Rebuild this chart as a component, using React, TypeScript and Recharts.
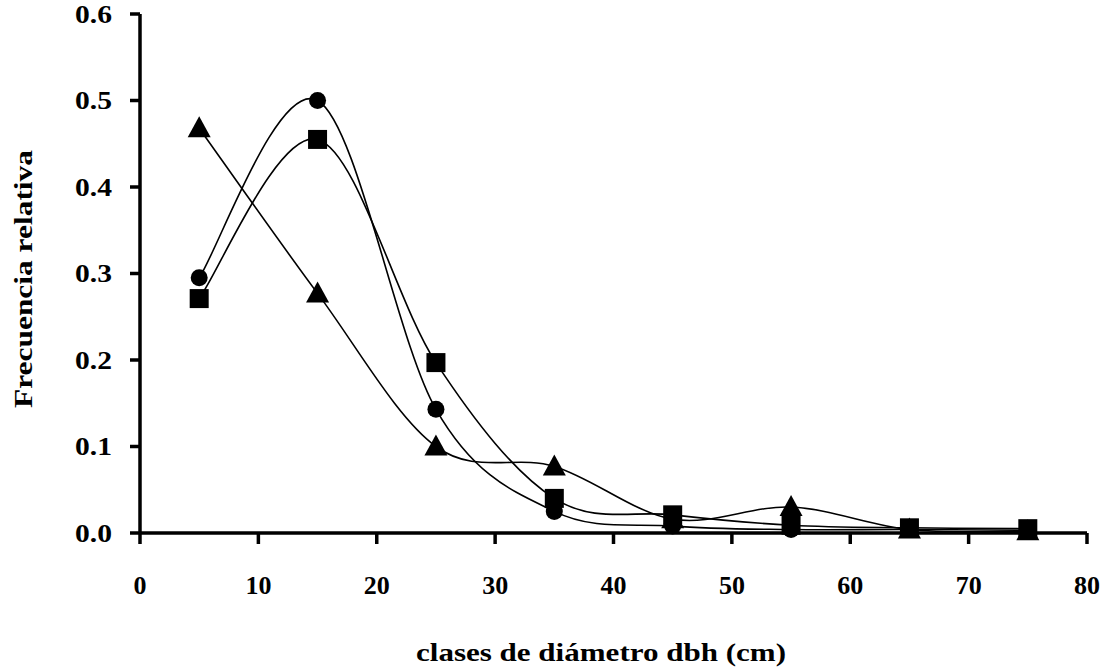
import { Label, Line, LineChart, XAxis, YAxis } from "recharts"

const diameterClasses = [5, 15, 25, 35, 45, 55, 65, 75]
const circleSeries = [0.295, 0.5, 0.143, 0.025, 0.008, 0.004, 0.004, 0.003]
const squareSeries = [0.271, 0.455, 0.197, 0.04, 0.021, 0.009, 0.006, 0.005]
const triangleSeries = [0.468, 0.277, 0.1, 0.077, 0.016, 0.03, 0.004, 0.002]
const xTicks = [0, 10, 20, 30, 40, 50, 60, 70, 80]
const yTicks = [0, 0.1, 0.2, 0.3, 0.4, 0.5, 0.6]

const data = diameterClasses.map((d, i) => ({
  dbh: d,
  circle: circleSeries[i],
  square: squareSeries[i],
  triangle: triangleSeries[i],
}))

const FONT = "'Liberation Serif', 'DejaVu Serif', serif"

// Excel-like smoothed line (Catmull-Rom as cubic bezier)
const smoothCurve = (context: any) => {
  let pts: number[][] = []
  return {
    areaStart() {},
    areaEnd() {},
    lineStart() {
      pts = []
    },
    lineEnd() {
      if (!pts.length) return
      context.moveTo(pts[0][0], pts[0][1])
      for (let i = 0; i < pts.length - 1; i++) {
        const p0 = pts[Math.max(i - 1, 0)]
        const p1 = pts[i]
        const p2 = pts[i + 1]
        const p3 = pts[Math.min(i + 2, pts.length - 1)]
        context.bezierCurveTo(
          p1[0] + (p2[0] - p0[0]) / 6,
          p1[1] + (p2[1] - p0[1]) / 6,
          p2[0] - (p3[0] - p1[0]) / 6,
          p2[1] - (p3[1] - p1[1]) / 6,
          p2[0],
          p2[1]
        )
      }
    },
    point(x: number, y: number) {
      pts.push([+x, +y])
    },
  }
}

const CircleDot = ({ cx, cy, index }: any) => (
  <circle key={`c-${index}`} cx={cx} cy={cy} r={8.5} fill="#000" />
)

const SquareDot = ({ cx, cy, index }: any) => (
  <rect key={`s-${index}`} x={cx - 9.5} y={cy - 9.5} width={19} height={19} fill="#000" />
)

const TriangleDot = ({ cx, cy, index }: any) => (
  <path key={`t-${index}`} d={`M${cx},${cy - 12} L${cx + 11.5},${cy + 9} L${cx - 11.5},${cy + 9} Z`} fill="#000" />
)

const YTick = ({ x, y, payload }: any) => (
  <text
    x={x}
    y={y}
    dy="0.34em"
    textAnchor="end"
    fontFamily={FONT}
    fontWeight="bold"
    fontSize={25}
    fill="#000"
    textLength={37}
    lengthAdjust="spacingAndGlyphs"
  >
    {payload.value.toFixed(1)}
  </text>
)

const XTick = ({ x, y, payload }: any) => (
  <text
    x={x}
    y={y}
    dy="0.71em"
    textAnchor="middle"
    fontFamily={FONT}
    fontWeight="bold"
    fontSize={26}
    fill="#000"
  >
    {payload.value}
  </text>
)

export default function App() {
  return (
    <div style={{ width: 1106, height: 672, background: "#fff" }}>
      <style>{`body{margin:0}`}</style>
      <LineChart width={1106} height={672} data={data} margin={{ top: 14, right: 19, bottom: 0, left: 0 }}>
        <XAxis
          dataKey="dbh"
          type="number"
          domain={[0, 80]}
          ticks={xTicks}
          interval={0}
          height={139}
          stroke="#000"
          strokeWidth={3.5}
          tickSize={11}
          tickMargin={32}
          tick={<XTick />}
        >
          <Label
            content={() => (
              <text
                x={601}
                y={661}
                textAnchor="middle"
                fontFamily={FONT}
                fontWeight="bold"
                fontSize={26}
                fill="#000"
                textLength={370}
                lengthAdjust="spacingAndGlyphs"
              >
                clases de diámetro dbh (cm)
              </text>
            )}
          />
        </XAxis>
        <YAxis
          type="number"
          domain={[0, 0.6]}
          ticks={yTicks}
          interval={0}
          width={140}
          stroke="#000"
          strokeWidth={3.5}
          tickSize={10}
          tickMargin={18}
          tick={<YTick />}
        >
          <Label
            content={() => (
              <text
                x={32}
                y={279}
                transform="rotate(-90, 32, 279)"
                textAnchor="middle"
                fontFamily={FONT}
                fontWeight="bold"
                fontSize={25}
                fill="#000"
                textLength={258}
                lengthAdjust="spacingAndGlyphs"
              >
                Frecuencia relativa
              </text>
            )}
          />
        </YAxis>
        <Line
          type={smoothCurve as any}
          dataKey="triangle"
          stroke="#000"
          strokeWidth={1.6}
          dot={TriangleDot}
          isAnimationActive={false}
        />
        <Line
          type={smoothCurve as any}
          dataKey="square"
          stroke="#000"
          strokeWidth={1.6}
          dot={SquareDot}
          isAnimationActive={false}
        />
        <Line
          type={smoothCurve as any}
          dataKey="circle"
          stroke="#000"
          strokeWidth={1.6}
          dot={CircleDot}
          isAnimationActive={false}
        />
      </LineChart>
    </div>
  )
}
